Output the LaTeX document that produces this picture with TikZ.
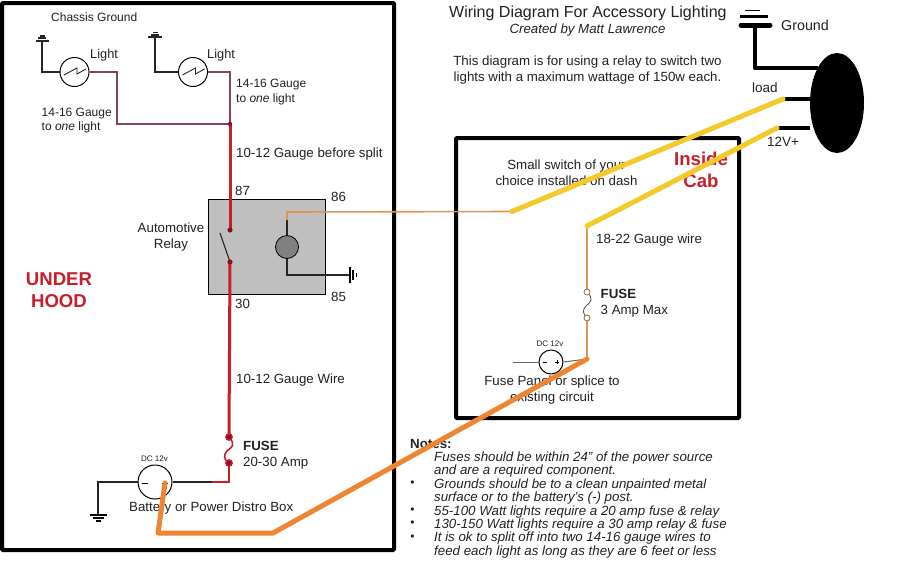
\documentclass[tikz,border=0pt]{standalone}
\usepackage{fontspec}
\setmainfont{Liberation Sans}
\usetikzlibrary{shapes.geometric}
\definecolor{wred}{HTML}{C81E2C}
\definecolor{dred}{HTML}{8E1020}
\definecolor{wpurple}{HTML}{7E4560}
\definecolor{worange}{HTML}{EE8533}
\definecolor{wthin}{HTML}{DE9456}
\definecolor{wyellow}{HTML}{F4C92C}
\definecolor{txt}{HTML}{222222}
\tikzset{
  lbl/.style={inner sep=0pt,text=txt,font=\fontsize{13.3}{15}\selectfont,align=left},
  lbs/.style={inner sep=0pt,text=txt,font=\fontsize{12}{14.5}\selectfont,align=left},
  lblc/.style={inner sep=0pt,text=txt,font=\fontsize{13.3}{16}\selectfont,align=center},
  small/.style={inner sep=0pt,text=txt,font=\fontsize{8}{9}\selectfont},
  note/.style={inner sep=0pt,anchor=west,text=txt,font=\fontsize{13.3}{13}\selectfont\itshape},
  bull/.style={inner sep=0pt,text=txt,font=\fontsize{12}{13}\selectfont},
  zone/.style={inner sep=0pt,text=wred,align=center,font=\fontsize{18.6}{22}\selectfont\bfseries},
  frame/.style={draw=black,line width=4pt,fill=white,rounded corners=1pt,inner sep=0pt},
  lamp/.style={draw=black,line width=1pt,circle,fill=white,minimum size=29pt,inner sep=0pt},
  batt/.style={draw=black,line width=1pt,circle,fill=white,inner sep=0pt},
  blk/.style={draw=black!85,line width=1.1pt},
  purp/.style={draw=wpurple,line width=1.3pt},
  redw/.style={draw=wred,line width=3pt},
  thin/.style={draw=wthin,line width=1.6pt},
  thick/.style={draw=worange,line width=5pt,line cap=round,line join=round},
  yel/.style={draw=wyellow,line width=5pt,line cap=round},
  hv/.style={draw=black,line width=4pt,line join=round},
}
\begin{document}
\begin{tikzpicture}[x=1pt,y=-1pt]
\useasboundingbox (0,0) rectangle (911,560);
% frames
\node[frame,minimum width=392pt,minimum height=547pt] (under) at (198,276.5) {};
\node[frame,minimum width=283pt,minimum height=280pt] (cab) at (597.5,278) {};
% relay
\node[draw=black,line width=1pt,fill=black!25,minimum width=117pt,minimum height=95pt,inner sep=0pt] (relay) at (266.5,246.5) {};
% coordinates
\coordinate (split) at (230,124);
\coordinate (c87) at (230,230);
\coordinate (c30) at (230,262);
\coordinate (blade) at (220,233);
\coordinate (fa) at (229,437);
\coordinate (fb) at (229,463);
\coordinate (fc) at (229,482);
\coordinate (fd) at (212,482);
\coordinate (sw) at (512,211.5);
\coordinate (coilT) at (287,212);
\coordinate (coilS) at (287,220);
\coordinate (gc) at (287,275);
\coordinate (gr) at (350,275);
\coordinate (ca) at (587,226);
\coordinate (cb) at (587,292);
\coordinate (cc) at (587,318);
\coordinate (cd) at (587,359);
\coordinate (loadE) at (783,99);
\coordinate (plusE) at (777,128);
\coordinate (bp) at (165,483);
\coordinate (b1) at (158,533);
\coordinate (b2) at (273,533);
\coordinate (g1) at (42,72);
\coordinate (g1t) at (42,40);
\coordinate (g2) at (155,72);
\coordinate (g2t) at (155,37);
\coordinate (p1) at (117,72);
\coordinate (p2) at (117,124);
\coordinate (p3) at (230,72);
\coordinate (gb) at (98,482);
\coordinate (gbd) at (98,515);
\coordinate (gt) at (755,25);
\coordinate (gm) at (755,68);
% lamps
\node[lamp] (l1) at (74.5,72) {};
\node[lamp] (l2) at (193,72) {};
\draw[line width=.9pt,black!85] (64,75)--(77,68)--(77,74)--(86,69);
\draw[line width=.9pt,black!85] (182.5,75)--(195.5,68)--(195.5,74)--(204.5,69);
\draw[blk] (l1.west)--(g1)--(g1t);
\draw[blk] (l2.west)--(g2)--(g2t);
\draw[line width=2pt,black!85] (35.5,40.5)--(48.5,40.5);
\draw[line width=2pt,black!85] (38,38)--(46,38);
\draw[line width=1.2pt,black!85] (39.5,36)--(44.5,36);
\draw[line width=2pt,black!85] (148,37)--(162,37);
\draw[line width=2pt,black!85] (151,34.5)--(159,34.5);
\draw[line width=1.2pt,black!85] (152.5,32.5)--(157.5,32.5);
\draw[purp] (l1.east)--(p1)--(p2)--(split);
\draw[purp] (l2.east)--(p3)--(split);
% red wires
\draw[redw] (split)--(c87);
\draw[blk] (c30)--(blade);
\draw[redw] (c30)--(fa);
\draw[draw=wred,line width=1.6pt] (fa) .. controls (236,445) and (232,447) .. (227,451) .. controls (223,455) and (224,460) .. (fb);
\draw[draw=wred,line width=1.6pt] (fb)--(fc)--(fd);
\fill[dred] (c87) circle (2.6);
\fill[dred] (c30) circle (2.6);
\fill[dred] (split) circle (2.2);
\draw[wred,line width=1.3pt,fill=dred] (fa) circle (3.2);
\draw[wred,line width=1.3pt,fill=dred] (fb) circle (3.2);
% coil
\node[draw=black,line width=.8pt,circle,fill=black!50,minimum size=23pt,inner sep=0pt] (coil) at (287,247) {};
\draw[blk] (coilS)--(coil.north);
\draw[blk] (coil.south)--(gc)--(gr);
\draw[line width=1.2pt] (350,267)--(350,283);
\draw[line width=1.2pt] (353,270)--(353,280);
\draw[line width=1pt] (356,273)--(356,277);
\draw[thin] (coilS)--(coilT)--(sw);
\fill[black!70] (sw) circle (1.8);
% main battery
\node[batt,minimum size=34pt] (bat) at (155,482) {};
\draw[blk] (bat.east)--(fd);
\draw[blk] (bat.west)--(gb)--(gbd);
\draw[line width=1.1pt] (90,515)--(107,515);
\draw[line width=1.1pt] (93,518)--(104,518);
\draw[line width=1.1pt] (96,521)--(101,521);
\draw[line width=1pt] (142,483)--(148,483);
\draw[line width=1pt] (162,483)--(168,483);
% cab wire and fuse
\draw[thin] (ca)--(cb);
\draw[thin] (cc)--(cd);
\draw[black!70,line width=.8pt] (cb) .. controls (594,299) and (591,302) .. (586,306) .. controls (582,310) and (583,314) .. (cc);
\draw[draw=wthin!70!black,line width=.8pt,fill=white] (cb) circle (3);
\draw[draw=wthin!70!black,line width=.8pt,fill=white] (cc) circle (3);
% second battery
\node[batt,minimum size=24pt] (bat2) at (551,362) {};
\draw[draw=black!60,line width=1pt] (513,362)--(bat2.west);
\draw[draw=black!60,line width=1pt] (bat2.east)--(cd);
\draw[line width=.6pt] (542.5,362)--(546.5,362);
\draw[line width=.6pt] (555,362)--(559,362) (557,360)--(557,364);
% texts
\node[lbs,anchor=west] (t1) at (51,17.5) {Chassis Ground};
\node[lbs,anchor=west,font=\fontsize{12.8}{14}\selectfont] (t2) at (90,55) {Light};
\node[lbs,anchor=west,font=\fontsize{12.8}{14}\selectfont] (t3) at (207,55) {Light};
\node[lbs,anchor=west] (t4) at (236,92) {14-16 Gauge\\to \textit{one} light};
\node[lbs,anchor=west] (t5) at (41.5,120.5) {14-16 Gauge\\to \textit{one} light};
\node[lbl,anchor=west] (t6) at (236,154) {10-12 Gauge before split};
\node[lbl,anchor=west] (t7) at (235,190.5) {87};
\node[lbl,anchor=west] (t8) at (331,196.5) {86};
\node[lbl,anchor=west] (t9) at (331,296.5) {85};
\node[lbl,anchor=west] (t10) at (235,304) {30};
\node[lblc] (t11) at (171,237) {Automotive\\Relay};
\node[lbl,anchor=west] (t12) at (236,380.5) {10-12 Gauge Wire};
\node[lbl,anchor=west,font=\fontsize{13.3}{16}\selectfont] (t13) at (243,455) {\textbf{FUSE}\\20-30 Amp};
\node[small] (t14) at (154.5,459) {DC 12v};
\node[lbl,anchor=west] (t15) at (129,508.5) {Battery or Power Distro Box};
\node[zone] (t16) at (59,290) {UNDER\\HOOD};
\node[lbl,anchor=west] (t17) at (449,13.5) {\fontsize{16}{18}\selectfont Wiring Diagram For Accessory Lighting};
\node[lbl,anchor=center,font=\fontsize{13.3}{15}\selectfont\itshape] (t18) at (587.5,30.5) {Created by Matt Lawrence};
\node[lblc] (t19) at (587.5,70.5) {This diagram is for using a relay to switch two\\lights with a maximum wattage of 150w each.};
\node[lblc] (t20) at (566.5,173) {Small switch of your\\choice installed on dash};
\node[zone] (t21) at (701,170) {Inside\\Cab};
\node[lbl,anchor=west] (t22) at (596,240.5) {18-22 Gauge wire};
\node[lbl,anchor=west,font=\fontsize{13.3}{16}\selectfont] (t23) at (600.5,303) {\textbf{FUSE}\\3 Amp Max};
\node[small] (t24) at (550,344) {DC 12v};
\node[lblc] (t25) at (552,390) {Fuse Panel or splice to\\existing circuit};
\node[lbl,anchor=west,font=\fontsize{13.5}{15}\selectfont] (t26) at (752,88) {load};
\node[lbl,anchor=west,font=\fontsize{13.5}{15}\selectfont] (t27) at (767,142) {12V+};
\node[lbl,anchor=west,font=\fontsize{14.3}{16}\selectfont] (t28) at (781,25) {Ground};
\node[lbl,anchor=west,font=\fontsize{13.3}{15}\selectfont\bfseries] (t29) at (410,444) {Notes:};
\node[note] (n1) at (434,458) {Fuses should be within 24" of the power source};
\node[note] (n2) at (434,471.5) {and are a required component.};
\node[note] (n3) at (434,485) {Grounds should be to a clean unpainted metal};
\node[note] (n4) at (434,498) {surface or to the battery's (-) post.};
\node[note] (n5) at (434,512) {55-100 Watt lights require a 20 amp fuse \& relay};
\node[note] (n6) at (434,525) {130-150 Watt lights require a 30 amp relay \& fuse};
\node[note] (n7) at (434,538.5) {It is ok to split off into two 14-16 gauge wires to};
\node[note] (n8) at (434,552) {feed each light as long as they are 6 feet or less};
\node[bull] (b3) at (412.5,484) {•};
\node[bull] (b5) at (412.5,511) {•};
\node[bull] (b6) at (412.5,524) {•};
\node[bull] (b7) at (412.5,537.5) {•};
% black external wiring
\node[ellipse,fill=black,minimum width=54pt,minimum height=100pt,inner sep=0pt] (load) at (837,103) {};
\draw[hv] (gt)--(gm)--(load.north west |- gm);
\draw[hv] (loadE)--(load.west |- loadE);
\draw[hv] (plusE)--(load.west |- plusE);
\draw[line width=5pt,line cap=round] (741,25)--(770,25);
\draw[line width=3pt] (740,16)--(768,16);
\draw[line width=1pt] (745,10)--(760,10);
% overlays
\draw[yel] (sw)--(loadE);
\draw[yel] (ca)--(plusE);
\draw[thick] (bp)--(b1)--(b2)--(cd);
\end{tikzpicture}
\end{document}
